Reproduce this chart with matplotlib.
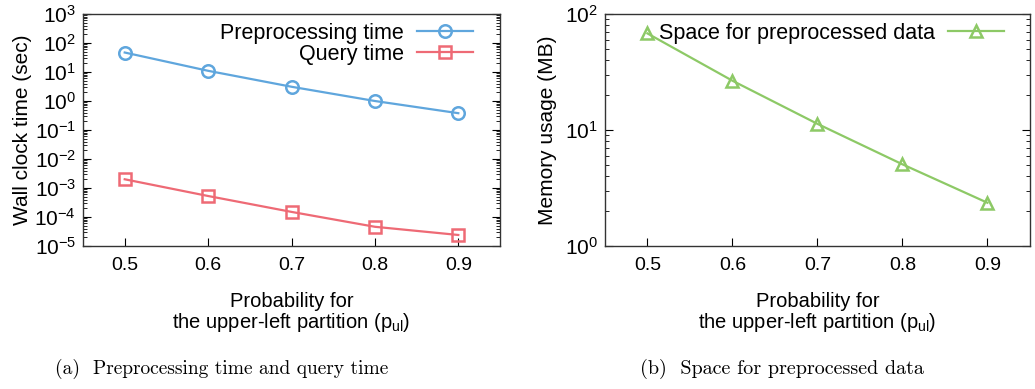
import matplotlib
matplotlib.use('Agg')
import matplotlib.pyplot as plt
from matplotlib.ticker import LogLocator, NullFormatter

plt.rcParams['font.family'] = ['Liberation Sans', 'DejaVu Sans']
plt.rcParams['mathtext.fontset'] = 'custom'
plt.rcParams['mathtext.rm'] = 'Liberation Sans'
plt.rcParams['mathtext.it'] = 'Liberation Sans:italic'

# data
prob = [0.5, 0.6, 0.7, 0.8, 0.9]
prep_time = [47, 11, 3.1, 1.0, 0.38]
query_time = [2.0e-3, 5.3e-4, 1.5e-4, 4.6e-5, 2.4e-5]
space_mb = [68, 26.6, 11.3, 5.06, 2.36]
xticks = [0.5, 0.6, 0.7, 0.8, 0.9]

blue = '#5fa6dd'
red = '#ee6a75'
green = '#8dc966'

fig = plt.figure(figsize=(10.35, 3.89), dpi=100)
ax1 = fig.add_axes([0.0802, 0.3676, 0.4029, 0.5964])
ax2 = fig.add_axes([0.5845, 0.3676, 0.4106, 0.5964])

ax1.plot(prob, prep_time, color=blue, lw=1.6, marker='o', ms=9, mfc='none',
         mew=1.8, label='Preprocessing time')
ax1.plot(prob, query_time, color=red, lw=1.6, marker='s', ms=9, mfc='none',
         mew=1.8, label='Query time')
ax1.set_ylim(1e-5, 1e3)
ax1.set_ylabel('Wall clock time (sec)', fontsize=15, labelpad=2)

ax2.plot(prob, space_mb, color=green, lw=1.6, marker='^', ms=9, mfc='none',
         mew=1.8, label='Space for preprocessed data')
ax2.set_ylim(1, 100)
ax2.set_ylabel('Memory usage (MB)', fontsize=15, labelpad=6)

for ax in (ax1, ax2):
    ax.set_yscale('log')
    ax.set_xlim(0.45, 0.95)
    ax.set_xticks(xticks)
    ax.set_xticklabels([f'{v:.1f}' for v in xticks])
    ax.yaxis.set_major_locator(LogLocator(base=10, numticks=20))
    ax.yaxis.set_minor_locator(LogLocator(base=10, subs=range(2, 10), numticks=20))
    ax.yaxis.set_minor_formatter(NullFormatter())
    ax.tick_params(axis='y', which='both', direction='in', left=True, right=True,
                   labelsize=15, pad=5)
    ax.tick_params(axis='y', which='major', length=6, width=0.8)
    ax.tick_params(axis='y', which='minor', length=3, width=0.6)
    ax.tick_params(axis='x', direction='in', top=False, length=6, width=0.8,
                   labelsize=14, pad=8)
    for s in ax.spines.values():
        s.set_linewidth(1.0)
        s.set_color('#333333')
    ax.set_xlabel('Probability for\nthe upper-left partition (p$_{\\mathrm{ul}}$)',
                  fontsize=14.5, labelpad=13, linespacing=1.0)

ax1.legend(loc='upper right', frameon=False, markerfirst=False, fontsize=15.5,
           handlelength=2.6, borderaxespad=0.0, labelspacing=0.0,
           handletextpad=0.6, bbox_to_anchor=(0.955, 1.0))
ax2.legend(loc='upper right', frameon=False, markerfirst=False, fontsize=15.5,
           handlelength=2.6, borderaxespad=0.0, handletextpad=0.6,
           bbox_to_anchor=(0.96, 1.0))

fig.text(0.2145, 0.04, '(a)  Preprocessing time and query time',
         family='cmr10', fontsize=14, ha='center')
fig.text(0.7555, 0.04, '(b)  Space for preprocessed data',
         family='cmr10', fontsize=14.5, ha='center')

fig.savefig('out.png', dpi=100)
